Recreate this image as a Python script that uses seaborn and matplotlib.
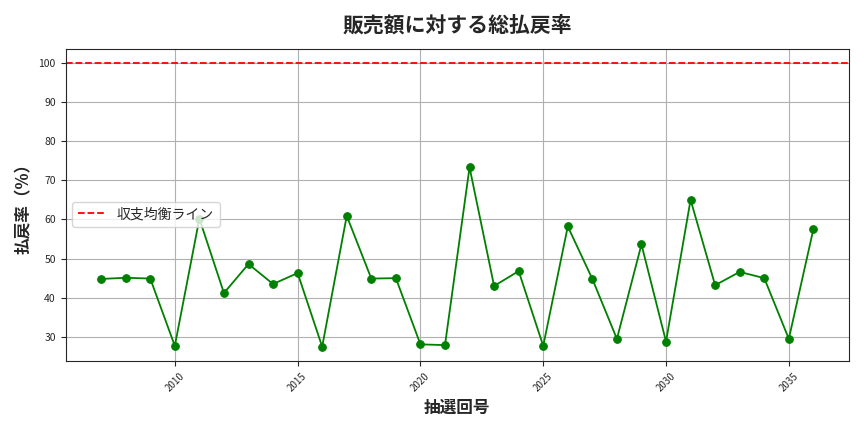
import matplotlib
matplotlib.use("Agg")
import matplotlib.pyplot as plt
import seaborn as sns
import pandas as pd

draws = list(range(2007, 2037))
payout_rate = [44.8, 45.1, 44.9, 27.7, 60.2, 41.2, 48.6, 43.5, 46.3, 27.5,
               60.9, 44.9, 45.0, 28.1, 27.9, 73.3, 43.0, 46.8, 27.7, 58.2,
               44.8, 29.5, 53.6, 28.8, 65.0, 43.2, 46.6, 45.0, 29.5, 57.5]

sns.set_style("ticks")
plt.rcParams["font.family"] = ["Noto Sans CJK JP", "DejaVu Sans"]

df = pd.DataFrame({"draw": draws, "rate": payout_rate})

fig, ax = plt.subplots(figsize=(8.64, 4.32), dpi=100)
sns.lineplot(data=df, x="draw", y="rate", color="green", marker="o",
             markersize=5.5, markeredgecolor="green", linewidth=1.3, ax=ax)
ax.axhline(100, color="red", linestyle="--", linewidth=1.3, label="収支均衡ライン")
ax.set_ylim(23.8, 103.6)
ax.set_title("販売額に対する総払戻率", fontsize=15, pad=12, fontweight="bold")
ax.set_xlabel("抽選回号", fontsize=12, fontweight="bold")
ax.set_ylabel("払戻率（%）", fontsize=12, fontweight="bold")
ax.tick_params(axis="x", labelsize=7, rotation=45)
ax.tick_params(axis="y", labelsize=7.5)
ax.grid(True, color="#b0b0b0", linewidth=0.8)
ax.legend(loc="center left", fontsize=10, bbox_to_anchor=(0.0, 0.47))
plt.tight_layout()
plt.savefig("out.png", dpi=100)
plt.close()
